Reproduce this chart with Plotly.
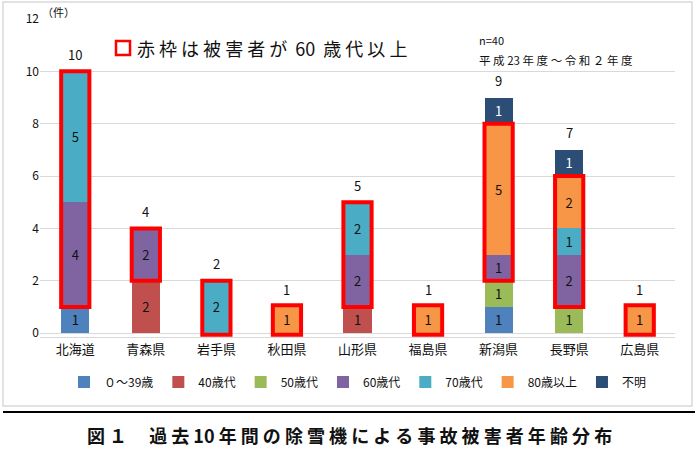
import plotly.graph_objects as go

prefectures = ['北海道', '青森県', '岩手県', '秋田県', '山形県', '福島県', '新潟県', '長野県', '広島県']
age_groups = ['０～39歳', '40歳代', '50歳代', '60歳代', '70歳代', '80歳以上', '不明']
age_0_39 = [1, 0, 0, 0, 0, 0, 1, 0, 0]
age_40s = [0, 2, 0, 0, 1, 0, 0, 0, 0]
age_50s = [0, 0, 0, 0, 0, 0, 1, 1, 0]
age_60s = [4, 2, 0, 0, 2, 0, 1, 2, 0]
age_70s = [5, 0, 2, 0, 2, 0, 0, 1, 0]
age_80_plus = [0, 0, 0, 1, 0, 1, 5, 2, 1]
unknown = [0, 0, 0, 0, 0, 0, 1, 1, 0]

series = [age_0_39, age_40s, age_50s, age_60s, age_70s, age_80_plus, unknown]
colors = ['#4F81BD', '#C0504D', '#9BBB59', '#8064A2', '#4BACC6', '#F79646', '#2C4D75']
text_colors = ['#111', '#111', '#111', '#111', '#111', '#111', 'white']

FONT = 'Noto Sans CJK JP'
W, H = 700, 450
L, R, T, B = 40, 25, 19, 113
Y_MIN, Y_MAX = -0.15, 12


def px_x(x):
    return (x - L) / (W - L - R)


def px_y(y):
    return (H - B - y) / (H - B - T)


fig = go.Figure()

for name, vals, col, tcol in zip(age_groups, series, colors, text_colors):
    fig.add_trace(go.Bar(
        x=prefectures, y=vals, name=name,
        marker=dict(color=col, line=dict(width=0)),
        text=[str(v) if v else '' for v in vals],
        textposition='inside', insidetextanchor='middle',
        textfont=dict(family=FONT, size=13, color=tcol),
        hoverinfo='skip',
    ))

totals = [sum(s[i] for s in series) for i in range(len(prefectures))]
for i, t in enumerate(totals):
    fig.add_annotation(x=prefectures[i], y=t, text=str(t), showarrow=False,
                       yshift=17, font=dict(family=FONT, size=13, color='#111'))

# red frames around the 60+ part of each bar
half = 0.2
for i in range(len(prefectures)):
    lo = age_0_39[i] + age_40s[i] + age_50s[i]
    hi = lo + age_60s[i] + age_70s[i] + age_80_plus[i]
    if hi > lo:
        fig.add_shape(type='rect', xref='x', yref='y',
                      x0=i - half, x1=i + half,
                      y0=lo - (0.06 if lo == 0 else 0), y1=hi + (0.06 if hi - lo == 1 else 0),
                      line=dict(color='#FF0000', width=4), layer='above')

# outer frame and separator line
fig.add_shape(type='rect', xref='paper', yref='paper',
              x0=px_x(3), x1=px_x(692), y0=px_y(406), y1=px_y(2),
              line=dict(color='#D9D9D9', width=1.5), layer='below')
fig.add_shape(type='line', xref='paper', yref='paper',
              x0=px_x(3), x1=px_x(695), y0=px_y(412), y1=px_y(412),
              line=dict(color='black', width=2))
# red square marker in the note
fig.add_shape(type='rect', xref='paper', yref='paper',
              x0=px_x(116), x1=px_x(130), y0=px_y(55), y1=px_y(41),
              line=dict(color='#FF0000', width=2.5))

fig.add_annotation(xref='paper', yref='paper', x=px_x(40), y=px_y(12),
                   text='（件）', showarrow=False, xanchor='left', yanchor='middle',
                   font=dict(family=FONT, size=11, color='#111'))
fig.add_annotation(xref='paper', yref='paper', x=px_x(135), y=px_y(48),
                   text='赤 枠 は 被 害 者 が  60  歳 代 以 上',
                   showarrow=False, xanchor='left', yanchor='middle',
                   font=dict(family=FONT, size=18, color='#111'))
fig.add_annotation(xref='paper', yref='paper', x=px_x(477), y=px_y(40),
                   text='n=40', showarrow=False, xanchor='left', yanchor='middle',
                   font=dict(family=FONT, size=11, color='#111'))
fig.add_annotation(xref='paper', yref='paper', x=px_x(477), y=px_y(60),
                   text='平 成 23 年 度 ～ 令 和 ２ 年 度', showarrow=False,
                   xanchor='left', yanchor='middle',
                   font=dict(family=FONT, size=11.5, color='#111'))
fig.add_annotation(xref='paper', yref='paper', x=px_x(349), y=px_y(435),
                   text='<b>図 １　 過 去 10 年 間 の 除 雪 機 に よ る 事 故 被 害 者 年 齢 分 布</b>',
                   showarrow=False, xanchor='center', yanchor='middle',
                   font=dict(family=FONT, size=18, color='#111'))

fig.update_layout(
    barmode='stack',
    bargap=0.6,
    width=W, height=H,
    margin=dict(l=L, r=R, t=T, b=B, autoexpand=False),
    paper_bgcolor='white', plot_bgcolor='white',
    font=dict(family=FONT, size=12, color='#111'),
    legend=dict(orientation='h', x=0.5, xanchor='center', y=px_y(382), yanchor='middle',
                font=dict(family=FONT, size=12), traceorder='normal',
                itemwidth=30),
    showlegend=True,
)
fig.update_xaxes(showgrid=False, showline=True, linecolor='#D9D9D9', ticks='',
                 tickfont=dict(family=FONT, size=13, color='#111'))
fig.update_yaxes(range=[Y_MIN, Y_MAX], tickvals=[0, 2, 4, 6, 8, 10, 12],
                 showgrid=True, gridcolor='#D9D9D9', gridwidth=1, zeroline=False,
                 tickfont=dict(family=FONT, size=12, color='#111'), ticks='')

# page margin would shift the figure; drop it
fig.write_html('out.html', config={'displayModeBar': False},
               post_script="document.body.style.margin='0';")
